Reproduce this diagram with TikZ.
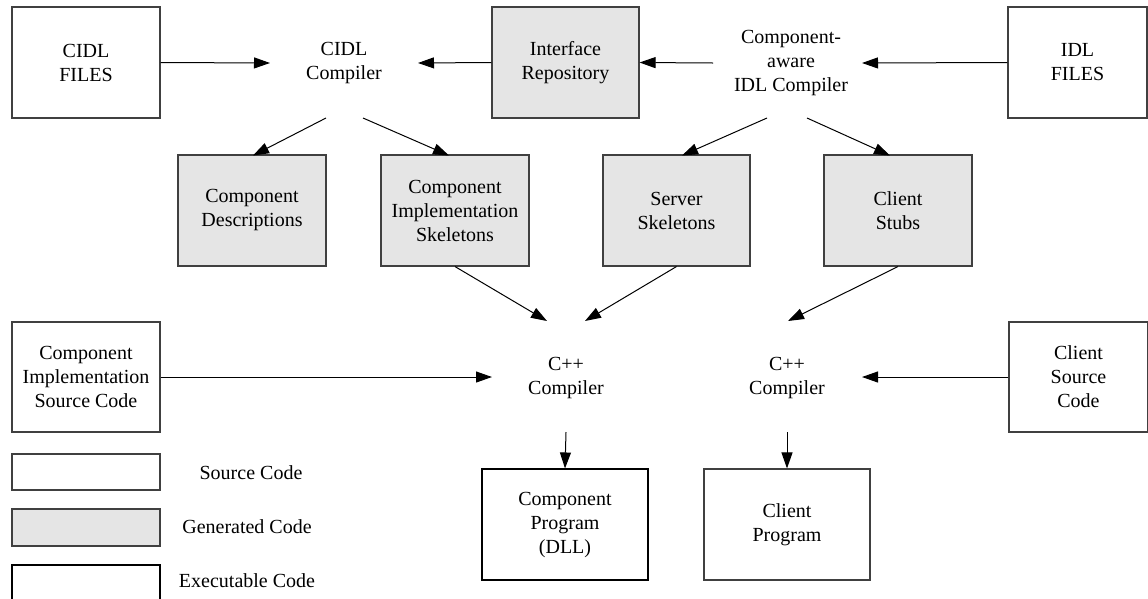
\documentclass[tikz,border=0pt]{standalone}
\usepackage{fontspec}
\setmainfont{Liberation Serif}
\usetikzlibrary{arrows.meta}
\begin{document}
\begin{tikzpicture}[x=1pt,y=-1pt,
  txt/.style={align=center, inner sep=0pt, font=\fontsize{20}{24}\selectfont},
  box/.style={txt, draw=black!75, line width=1.1pt, minimum width=148pt, minimum height=111pt},
  gen/.style={box, fill=black!10},
  arr/.style={-{Triangle[length=16pt,width=11pt]}, line width=1pt}]
\useasboundingbox (0,0) rectangle (1148,598);

% top row
\node[box] (cidlf) at (86,62.5) {CIDL\\FILES};
\node[txt] (cidlc) at (344,63) {CIDL\\Compiler};
\node[gen, minimum width=147pt] (ir) at (565.5,62.5) {Interface\\Repository};
\node[txt] (caidl) at (791,63) {Component-\\aware\\IDL Compiler};
\node[box, minimum width=139pt] (idlf) at (1077.5,62.5) {IDL\\FILES};

% generated row
\node[gen] (cd) at (252,210.5) {Component\\Descriptions};
\node[gen] (cis) at (455,210.5) {Component\\Implementation\\Skeletons};
\node[gen, minimum width=147pt] (ss) at (676.5,210.5) {Server\\Skeletons};
\node[gen] (cs) at (898,210.5) {Client\\Stubs};

% compilers row
\node[box, minimum height=110pt] (cisc) at (86,377) {Component\\Implementation\\Source Code};
\node[txt] (cpp1) at (566,378) {C++\\Compiler};
\node[txt] (cpp2) at (787,378) {C++\\Compiler};
\node[box, minimum width=139pt, minimum height=110pt] (csc) at (1078.5,377) {Client\\Source\\Code};

% programs
\node[box, draw=black, minimum width=166pt] (cp) at (565,524.5) {Component\\Program\\(DLL)};
\node[box, minimum width=166pt] (clp) at (787,524.5) {Client\\Program};

% legend
\node[box, minimum height=36pt] (lsrc) at (86,472) {};
\node[gen, minimum height=37pt] (lgen) at (86,527.5) {};
\node[box, draw=black, minimum height=36pt] (lexe) at (86,583) {};
\node[txt] (tsrc) at (251,473) {Source Code};
\node[txt] (tgen) at (247,527) {Generated Code};
\node[txt] (texe) at (247,581) {Executable Code};

% connector coordinates
\coordinate (cidlcIn) at (270,63);
\coordinate (cidlcIn2) at (418,63);
\coordinate (caidlOut) at (713,63);
\coordinate (caidlIn) at (862,63);
\coordinate (cidlcA) at (326,118);
\coordinate (cidlcB) at (363,118);
\coordinate (caidlA) at (767,118);
\coordinate (caidlB) at (807,118);
\coordinate (cpp1A) at (547,321);
\coordinate (cpp1B) at (585,321);
\coordinate (cpp2A) at (788,321);
\coordinate (cpp1L) at (492,377);
\coordinate (cpp2R) at (862,377);
\coordinate (cpp1D) at (566,432);
\coordinate (cpp2D) at (787,432);

% connectors
\draw[arr] (cidlf.east) -- (cidlcIn);
\draw[arr] (ir.west) -- (cidlcIn2);
\draw[arr] (caidlOut) -- (ir.east);
\draw[arr] (idlf.west) -- (caidlIn);
\draw[arr] (cidlcA) -- (253,155.5) coordinate (cdT);
\draw[arr] (cidlcB) -- (449,155.5) coordinate (cisT);
\draw[arr] (caidlA) -- (682,155.5) coordinate (ssT);
\draw[arr] (caidlB) -- (890,155.5) coordinate (csT);
\draw[arr] (cis.south) -- (cpp1A);
\draw[arr] (ss.south) -- (cpp1B);
\draw[arr] (cs.south) -- (cpp2A);
\draw[arr] (cisc.east) -- (cpp1L);
\draw[arr] (csc.west) -- (cpp2R);
\draw[arr] (cpp1D) -- (cp.north);
\draw[arr] (cpp2D) -- (clp.north);
\end{tikzpicture}
\end{document}
